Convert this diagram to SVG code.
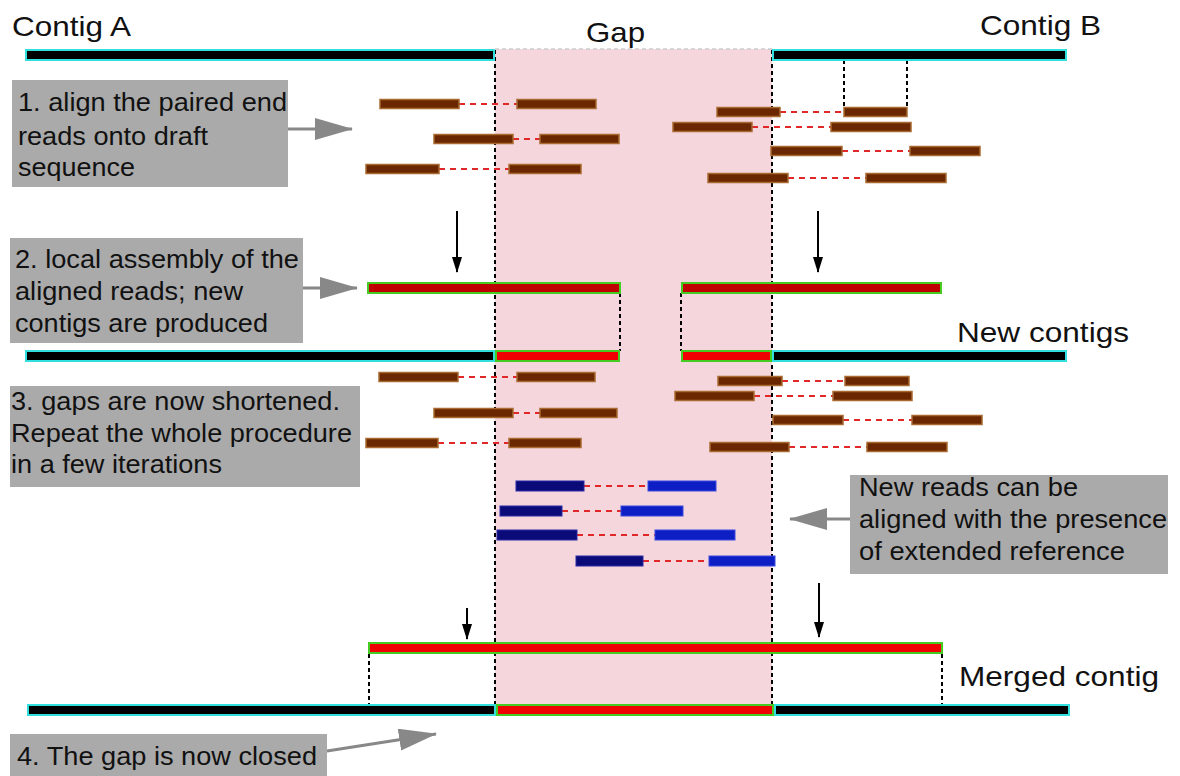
<svg xmlns="http://www.w3.org/2000/svg" width="1180" height="776" viewBox="0 0 1180 776">
<defs>
<style>
.t{font-family:"Liberation Sans",Arial,sans-serif;font-size:26px;fill:#111}
.h{font-family:"Liberation Sans",Arial,sans-serif;font-size:28px;fill:#111}
.box{fill:#aaaaaa}
.ctg{fill:#000;stroke:#33dede;stroke-width:2}
.new{fill:#c00000;stroke:#44cc22;stroke-width:2}
.ins{fill:#f00000;stroke:#44cc22;stroke-width:2}
.rd{fill:#6b2800;stroke:#a86a30;stroke-width:1.5}
.bl1{fill:#0a0a78;stroke:#2a2aa8;stroke-width:1}
.bl2{fill:#0c1ec4;stroke:#3a4ae0;stroke-width:1}
.pair{stroke:#e02828;stroke-width:2.2;stroke-dasharray:6 5;fill:none}
.vd{stroke:#000;stroke-width:2;stroke-dasharray:4 3;fill:none}
.ga{stroke:#888;stroke-width:3;fill:none}
.ba{stroke:#000;stroke-width:2;fill:none}
</style>
<marker id="gh" viewBox="0 0 38 22" refX="37" refY="11" markerWidth="38" markerHeight="22" markerUnits="userSpaceOnUse" orient="auto"><path d="M0,0 L38,11 L0,22 z" fill="#888"/></marker>
<marker id="bh" viewBox="0 0 10 16" refX="5" refY="15" markerWidth="10" markerHeight="16" markerUnits="userSpaceOnUse" orient="0"><path d="M0,0 L10,0 L5,16 z" fill="#000"/></marker>
</defs>

<g id="gap-region">
<rect x="495" y="49" width="277" height="656" fill="#f4d6dc"/>
<line x1="495" y1="49" x2="772" y2="49" stroke="#cccccc" stroke-width="1.5" stroke-dasharray="4 3"/>
</g>

<g id="titles">
<text class="h" x="12" y="36" textLength="119" lengthAdjust="spacingAndGlyphs">Contig A</text>
<text class="h" x="586" y="42" textLength="59" lengthAdjust="spacingAndGlyphs">Gap</text>
<text class="h" x="980" y="35" textLength="121" lengthAdjust="spacingAndGlyphs">Contig B</text>
<text class="h" x="957" y="342" textLength="172" lengthAdjust="spacingAndGlyphs">New contigs</text>
<text class="h" x="959" y="686" textLength="200" lengthAdjust="spacingAndGlyphs">Merged contig</text>
</g>

<g id="connectors">
<line class="vd" x1="495" y1="50" x2="495" y2="705"/>
<line class="vd" x1="772" y1="50" x2="772" y2="705"/>
<line class="vd" x1="844" y1="60" x2="844" y2="107"/>
<line class="vd" x1="907" y1="60" x2="907" y2="107"/>
<line class="vd" x1="620" y1="293" x2="620" y2="351"/>
<line class="vd" x1="681" y1="293" x2="681" y2="351"/>
<line class="vd" x1="369" y1="654" x2="369" y2="705"/>
<line class="vd" x1="942" y1="654" x2="942" y2="705"/>
<line class="ga" x1="288" y1="129" x2="352" y2="129" marker-end="url(#gh)"/>
<line class="ga" x1="303" y1="288" x2="357" y2="288" marker-end="url(#gh)"/>
<line class="ga" x1="850" y1="519" x2="790" y2="519" marker-end="url(#gh)"/>
<line class="ga" x1="327" y1="751" x2="436" y2="734" marker-end="url(#gh)"/>
<line class="ba" x1="457" y1="211" x2="457" y2="272" marker-end="url(#bh)"/>
<line class="ba" x1="818" y1="211" x2="818" y2="272" marker-end="url(#bh)"/>
<line class="ba" x1="467" y1="608" x2="467" y2="639" marker-end="url(#bh)"/>
<line class="ba" x1="819" y1="583" x2="819" y2="637" marker-end="url(#bh)"/>
</g>

<g id="row1-draft">
<rect class="ctg" x="26" y="50" width="468" height="10"/>
<rect class="ctg" x="773" y="50" width="293" height="10"/>
</g>

<g id="reads1">
<line class="pair" x1="459" y1="104" x2="517" y2="104"/>
<line class="pair" x1="513" y1="139" x2="540" y2="139"/>
<line class="pair" x1="439" y1="169" x2="509" y2="169"/>
<line class="pair" x1="780" y1="112" x2="844" y2="112"/>
<line class="pair" x1="752" y1="127" x2="831" y2="127"/>
<line class="pair" x1="842" y1="151" x2="910" y2="151"/>
<line class="pair" x1="788" y1="178" x2="866" y2="178"/>
<rect class="rd" x="380" y="99.5" width="79" height="9"/>
<rect class="rd" x="517" y="99.5" width="79" height="9"/>
<rect class="rd" x="434" y="134.5" width="79" height="9"/>
<rect class="rd" x="540" y="134.5" width="79" height="9"/>
<rect class="rd" x="366" y="164.5" width="73" height="9"/>
<rect class="rd" x="509" y="164.5" width="72" height="9"/>
<rect class="rd" x="717" y="107.5" width="63" height="9"/>
<rect class="rd" x="844" y="107.5" width="63" height="9"/>
<rect class="rd" x="673" y="122.5" width="79" height="9"/>
<rect class="rd" x="831" y="122.5" width="80" height="9"/>
<rect class="rd" x="771" y="146.5" width="71" height="9"/>
<rect class="rd" x="910" y="146.5" width="70" height="9"/>
<rect class="rd" x="708" y="173.5" width="80" height="9"/>
<rect class="rd" x="866" y="173.5" width="80" height="9"/>
</g>

<g id="row2-new-contigs">
<rect class="new" x="368" y="283" width="252" height="10"/>
<rect class="new" x="682" y="283" width="259" height="10"/>
</g>

<g id="row3-extended">
<rect class="ctg" x="26" y="351" width="468" height="10"/>
<rect class="ins" x="496" y="351" width="123" height="10"/>
<rect class="ins" x="682" y="351" width="89" height="10"/>
<rect class="ctg" x="773" y="351" width="293" height="10"/>
</g>

<g id="reads2">
<line class="pair" x1="458" y1="377" x2="517" y2="377"/>
<line class="pair" x1="513" y1="413" x2="540" y2="413"/>
<line class="pair" x1="438" y1="443" x2="509" y2="443"/>
<line class="pair" x1="782" y1="381" x2="845" y2="381"/>
<line class="pair" x1="754" y1="396" x2="833" y2="396"/>
<line class="pair" x1="843" y1="420" x2="912" y2="420"/>
<line class="pair" x1="789" y1="447" x2="867" y2="447"/>
<rect class="rd" x="379" y="372.5" width="79" height="9"/>
<rect class="rd" x="517" y="372.5" width="78" height="9"/>
<rect class="rd" x="434" y="408.5" width="79" height="9"/>
<rect class="rd" x="540" y="408.5" width="77" height="9"/>
<rect class="rd" x="366" y="438.5" width="72" height="9"/>
<rect class="rd" x="509" y="438.5" width="72" height="9"/>
<rect class="rd" x="718" y="376.5" width="64" height="9"/>
<rect class="rd" x="845" y="376.5" width="64" height="9"/>
<rect class="rd" x="675" y="391.5" width="79" height="9"/>
<rect class="rd" x="833" y="391.5" width="79" height="9"/>
<rect class="rd" x="773" y="415.5" width="70" height="9"/>
<rect class="rd" x="912" y="415.5" width="70" height="9"/>
<rect class="rd" x="710" y="442.5" width="79" height="9"/>
<rect class="rd" x="867" y="442.5" width="80" height="9"/>
</g>

<g id="reads-new">
<line class="pair" x1="584" y1="486" x2="648" y2="486"/>
<line class="pair" x1="562" y1="511" x2="621" y2="511"/>
<line class="pair" x1="577" y1="535" x2="655" y2="535"/>
<line class="pair" x1="643" y1="561" x2="709" y2="561"/>
<rect class="bl1" x="516" y="481" width="68" height="10"/>
<rect class="bl2" x="648" y="481" width="68" height="10"/>
<rect class="bl1" x="500" y="506" width="62" height="10"/>
<rect class="bl2" x="621" y="506" width="62" height="10"/>
<rect class="bl1" x="497" y="530" width="80" height="10"/>
<rect class="bl2" x="655" y="530" width="80" height="10"/>
<rect class="bl1" x="576" y="556" width="67" height="10"/>
<rect class="bl2" x="709" y="556" width="66" height="10"/>
</g>

<g id="row4-merged">
<rect class="ins" x="369" y="643" width="573" height="10"/>
<rect class="ctg" x="28" y="705" width="467" height="10"/>
<rect class="ins" x="497" y="705" width="276" height="10"/>
<rect class="ctg" x="775" y="705" width="294" height="10"/>
</g>

<g id="box1">
<rect class="box" x="12" y="80" width="276" height="107"/>
<text class="t" x="18" y="111" textLength="269" lengthAdjust="spacingAndGlyphs">1. align the paired end</text>
<text class="t" x="18" y="145" textLength="190" lengthAdjust="spacingAndGlyphs">reads onto draft</text>
<text class="t" x="18" y="176" textLength="117" lengthAdjust="spacingAndGlyphs">sequence</text>
</g>

<g id="box2">
<rect class="box" x="10" y="238" width="293" height="105"/>
<text class="t" x="15" y="268" textLength="284" lengthAdjust="spacingAndGlyphs">2. local assembly of the</text>
<text class="t" x="15" y="300" textLength="228" lengthAdjust="spacingAndGlyphs">aligned reads; new</text>
<text class="t" x="15" y="332" textLength="253" lengthAdjust="spacingAndGlyphs">contigs are produced</text>
</g>

<g id="box3">
<rect class="box" x="10" y="386" width="350" height="101"/>
<text class="t" x="11" y="410" textLength="329" lengthAdjust="spacingAndGlyphs">3. gaps are now shortened.</text>
<text class="t" x="11" y="442" textLength="341" lengthAdjust="spacingAndGlyphs">Repeat the whole procedure</text>
<text class="t" x="11" y="473" textLength="211" lengthAdjust="spacingAndGlyphs">in a few iterations</text>
</g>

<g id="box-new-reads">
<rect class="box" x="850" y="475" width="318" height="99"/>
<text class="t" x="859" y="496" textLength="219" lengthAdjust="spacingAndGlyphs">New reads can be</text>
<text class="t" x="859" y="528" textLength="308" lengthAdjust="spacingAndGlyphs">aligned with the presence</text>
<text class="t" x="859" y="560" textLength="266" lengthAdjust="spacingAndGlyphs">of extended reference</text>
</g>

<g id="box4">
<rect class="box" x="10" y="734" width="317" height="42"/>
<text class="t" x="17" y="765" textLength="300" lengthAdjust="spacingAndGlyphs">4. The gap is now closed</text>
</g>
</svg>
